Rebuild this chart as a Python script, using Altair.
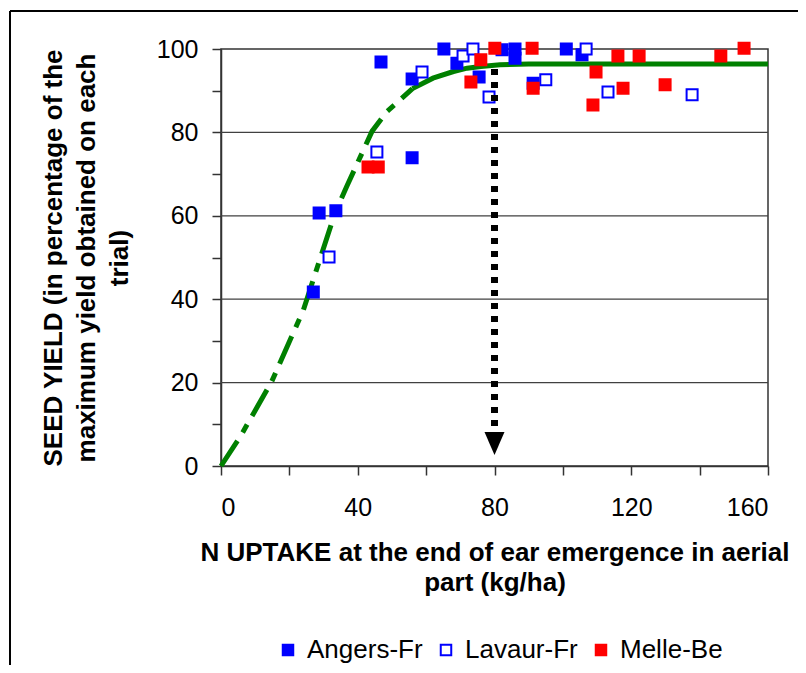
import altair as alt
import pandas as pd

# ---- data ----
angers_x = [27, 28.7, 33.6, 46.8, 55.9, 55.9, 65.2, 69, 75.5, 82.2, 86, 86, 91.3, 101, 105.6]
angers_y = [41.7, 60.7, 61.2, 96.9, 73.9, 92.8, 100, 96.6, 93.3, 99.8, 100, 97.8, 91.8, 100, 98.6]

lavaur_x = [31.6, 45.6, 58.8, 70.8, 73.7, 78.4, 95, 106.8, 113.2, 137.8]
lavaur_y = [50.1, 75.3, 94.5, 98.3, 100, 88.5, 92.6, 100, 89.7, 89.0]

melle_x = [43, 46, 73.1, 76, 80.1, 91, 91.3, 108.8, 109.7, 116.1, 117.6, 122.3, 129.9, 146.2, 153]
melle_y = [71.7, 71.7, 92.1, 97.4, 100.2, 100.2, 90.6, 86.6, 94.5, 98.3, 90.6, 98.3, 91.4, 98.3, 100.2]

sites = ["Angers-Fr", "Lavaur-Fr", "Melle-Be"]
site_stroke = ["#0000FF", "#0000FF", "#FF0000"]
site_fill = ["#0000FF", "#FFFFFF", "#FF0000"]

curve_x = [0, 5.6, 14.8, 24.1, 33.3, 36.8, 40, 44.2, 48.5, 52.4, 56, 62, 68, 72, 76, 81.6, 90, 100, 160]
curve_y = [0, 7, 20.2, 37.4, 60.6, 67.1, 72.8, 80.3, 85, 87.8, 90.5, 93, 94.6, 95.4, 95.8, 96.2, 96.4, 96.4, 96.4]
curve_split = 56

arrow_x = [80]
arrow_top = [95.2]
arrow_bottom = [8.2]
arrow_head_y = [5.4]

grid_y = [20, 40, 60, 80]
x_ticks = list(range(0, 161, 10))
y_ticks = list(range(0, 101, 10))

x_title = ["N UPTAKE at the end of ear emergence in aerial", "part (kg/ha)"]
y_title = ["SEED YIELD (in percentage of the", "maximum yield obtained on each", "trial)"]

FONT = "Liberation Sans"

# ---- tables ----
rows = []
for name, xs, ys in [(sites[0], angers_x, angers_y), (sites[1], lavaur_x, lavaur_y), (sites[2], melle_x, melle_y)]:
    for a, b in zip(xs, ys):
        rows.append({"site": name, "x": a, "y": b})
pts = pd.DataFrame(rows)
pts["idx"] = range(len(pts))

curve = pd.DataFrame({"x": curve_x, "y": curve_y})
curve_dash = curve[curve.x <= curve_split]
curve_solid = curve[curve.x >= curve_split]

arrow = pd.DataFrame({"x": arrow_x, "y": arrow_top, "y2": arrow_bottom, "yh": arrow_head_y})
grid = pd.DataFrame({"y": grid_y})

xscale = alt.Scale(domain=[0, 160], nice=False, zero=False)
yscale = alt.Scale(domain=[0, 100], nice=False, zero=False)

x_axis = alt.Axis(
    values=x_ticks,
    labelExpr="datum.value % 40 == 0 ? datum.label : ''",
    title=x_title,
    grid=False,
    tickSize=9,
    labelPadding=20,
    titleX=273.5,
    titleY=94,
    titleBaseline="alphabetic",
    titleLineHeight=30,
)
y_axis = alt.Axis(
    values=y_ticks,
    labelExpr="datum.value % 20 == 0 ? datum.label : ''",
    title=y_title,
    grid=False,
    tickSize=9,
    labelPadding=14,
    titleAngle=270,
    titleX=-160,
    titleY=208.5,
    titleAlign="center",
    titleBaseline="alphabetic",
    titleLineHeight=33,
)

legend = alt.Legend(title=None, orient="none", direction="horizontal",
                    legendX=54, legendY=588, padding=0,
                    symbolSize=110, symbolStrokeWidth=2, symbolType="square",
                    labelFontSize=26, labelFont=FONT, labelColor="black", labelOffset=6,
                    columnPadding=10)

gridlines = alt.Chart(grid).mark_rule(color="#404040", strokeWidth=1.2).encode(
    y=alt.Y("y:Q", scale=yscale)
)

line_dash = alt.Chart(curve_dash).mark_line(
    color="#008000", strokeWidth=5, strokeDash=[30, 10, 9, 10]
).encode(
    x=alt.X("x:Q", scale=xscale, axis=x_axis),
    y=alt.Y("y:Q", scale=yscale, axis=y_axis),
)
line_solid = alt.Chart(curve_solid).mark_line(color="#008000", strokeWidth=5).encode(
    x=alt.X("x:Q", scale=xscale),
    y=alt.Y("y:Q", scale=yscale),
)

points = alt.Chart(pts).mark_point(shape="square", size=121, strokeWidth=2, opacity=1, filled=False).encode(
    x=alt.X("x:Q", scale=xscale),
    y=alt.Y("y:Q", scale=yscale),
    stroke=alt.Stroke("site:N", scale=alt.Scale(domain=sites, range=site_stroke), legend=legend),
    fill=alt.Fill("site:N", scale=alt.Scale(domain=sites, range=site_fill), legend=legend),
    order=alt.Order("idx:Q"),
)

arrow_rule = alt.Chart(arrow).mark_rule(color="black", strokeWidth=7, strokeDash=[6, 7]).encode(
    x=alt.X("x:Q", scale=xscale),
    y=alt.Y("y:Q", scale=yscale),
    y2="y2:Q",
)
arrow_head = alt.Chart(arrow).mark_point(
    shape="M-0.87,-1L0.87,-1L0,1Z", size=529, filled=True, color="black", opacity=1
).encode(
    x=alt.X("x:Q", scale=xscale),
    y=alt.Y("yh:Q", scale=yscale),
)

frame_left = alt.Chart(grid).mark_rule(color="black", strokeWidth=1.5).encode(
    x=alt.value(-211), y=alt.value(-38), y2=alt.value(640)
)
frame_top = alt.Chart(grid).mark_rule(color="black", strokeWidth=1.5).encode(
    x=alt.value(-211), x2=alt.value(600), y=alt.value(-38)
)

chart = alt.layer(
    gridlines, line_dash, line_solid, points, arrow_rule, arrow_head, frame_left, frame_top
).properties(
    width=547,
    height=417,
    autosize=alt.AutoSizeParams(type="none"),
    padding={"left": 213, "top": 41, "right": 30, "bottom": 199},
).configure_view(
    stroke="#333333", strokeWidth=1.5
).configure_axis(
    labelFont=FONT, labelFontSize=25, labelColor="black",
    titleFont=FONT, titleFontSize=26, titleFontWeight="bold", titleColor="black",
    domainColor="#333333", domainWidth=1.5, tickColor="#333333", tickWidth=1.5,
)

chart.save("out.html", embed_options={"renderer": "svg", "actions": False})
